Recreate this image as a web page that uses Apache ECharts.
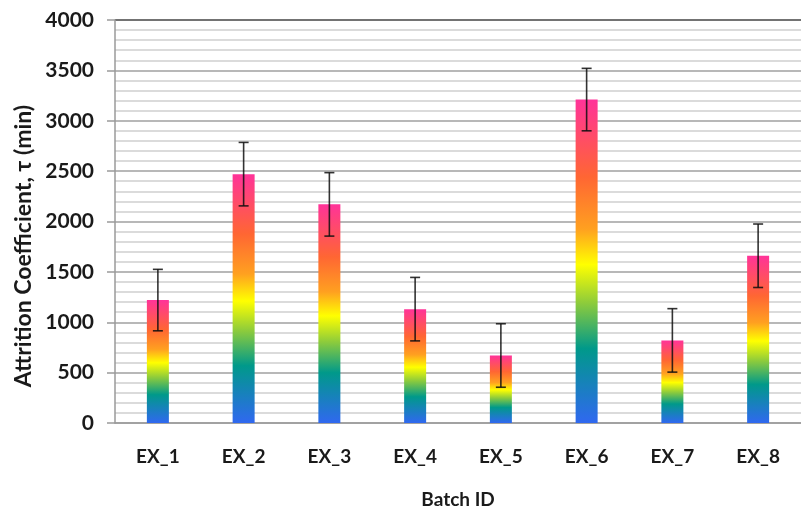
<!DOCTYPE html>
<html>
<head>
<meta charset="utf-8">
<script src="https://cdn.jsdelivr.net/npm/echarts@6/dist/echarts.min.js"></script>
<style>
html,body{margin:0;padding:0;background:#fff;}
#chart{width:801px;height:515px;}
</style>
</head>
<body>
<div id="chart"></div>
<script>
var categories = ['EX_1','EX_2','EX_3','EX_4','EX_5','EX_6','EX_7','EX_8'];
var values = [1220, 2470, 2170, 1130, 670, 3210, 820, 1660];
var errors = [305, 315, 315, 315, 315, 310, 315, 315];
var yTicks = [0, 500, 1000, 1500, 2000, 2500, 3000, 3500, 4000];

var chart = echarts.init(document.getElementById('chart'), null, {renderer:'canvas'});
var FONT = 'Lato, "Open Sans", sans-serif';

var gradient = new echarts.graphic.LinearGradient(0, 0, 0, 1, [
  {offset: 0.00, color: '#FF3399'},
  {offset: 0.24, color: '#FF6633'},
  {offset: 0.40, color: '#FFA020'},
  {offset: 0.51, color: '#FFFF00'},
  {offset: 0.63, color: '#8CCB3C'},
  {offset: 0.77, color: '#00998A'},
  {offset: 1.00, color: '#3068F0'}
]);

var errData = categories.map(function(c, i){ return [i, values[i] - errors[i], values[i] + errors[i]]; });

var option = {
  backgroundColor: '#ffffff',
  animation: false,
  grid: {left: 115, top: 20, right: -10, bottom: 92},
  graphic: [{
    type: 'text',
    x: 24, y: 246,
    rotation: Math.PI / 2,
    style: {
      text: 'Attrition Coefficient, \u03C4 (min)',
      font: 'bold 23px ' + FONT,
      fill: '#1a1a1a',
      align: 'center',
      verticalAlign: 'middle'
    }
  }],
  xAxis: {
    type: 'category',
    data: categories,
    name: 'Batch ID',
    nameLocation: 'middle',
    nameGap: 67,
    nameTextStyle: {fontFamily: FONT, fontWeight: 'bold', fontSize: 19, color: '#1a1a1a'},
    axisLine: {show: true, lineStyle: {color: '#9a9a9a', width: 1.5}},
    axisTick: {show: false},
    axisLabel: {fontFamily: FONT, fontWeight: 'bold', fontSize: 19, color: '#1a1a1a', margin: 24},
    splitLine: {show: false}
  },
  yAxis: {
    type: 'value',
    min: yTicks[0],
    max: yTicks[yTicks.length - 1],
    interval: 500,
    axisLine: {show: true, lineStyle: {color: '#9a9a9a', width: 1.5}},
    axisTick: {show: true, inside: false, length: 8, lineStyle: {color: '#9a9a9a', width: 1.5}},
    axisLabel: {fontFamily: FONT, fontWeight: 'bold', fontSize: 21, color: '#1a1a1a', margin: 21,
      formatter: function(v){ return String(v); }},
    splitLine: {show: true, lineStyle: {color: ['#a0a0a0','#a0a0a0','#a0a0a0','#a0a0a0','#a0a0a0','#a0a0a0','#a0a0a0','#a0a0a0','#444444'], width: 1.5}},
    minorTick: {show: false, splitNumber: 5},
    minorSplitLine: {show: true, lineStyle: {color: '#cfcfcf', width: 1.5}}
  },
  series: [{
    type: 'bar',
    data: values,
    barWidth: 22,
    itemStyle: {color: gradient},
    z: 2
  }, {
    type: 'custom',
    data: errData,
    z: 3,
    renderItem: function(params, api){
      var x = api.value(0);
      var lo = api.coord([x, api.value(1)]);
      var hi = api.coord([x, api.value(2)]);
      var hw = 5;
      var st = {stroke: 'rgba(15,15,15,0.85)', lineWidth: 1.6};
      return {
        type: 'group',
        children: [
          {type: 'line', shape: {x1: lo[0], y1: lo[1], x2: hi[0], y2: hi[1]}, style: st},
          {type: 'line', shape: {x1: lo[0]-hw, y1: lo[1], x2: lo[0]+hw, y2: lo[1]}, style: st},
          {type: 'line', shape: {x1: hi[0]-hw, y1: hi[1], x2: hi[0]+hw, y2: hi[1]}, style: st}
        ]
      };
    }
  }]
};
chart.setOption(option);
</script>
</body>
</html>
